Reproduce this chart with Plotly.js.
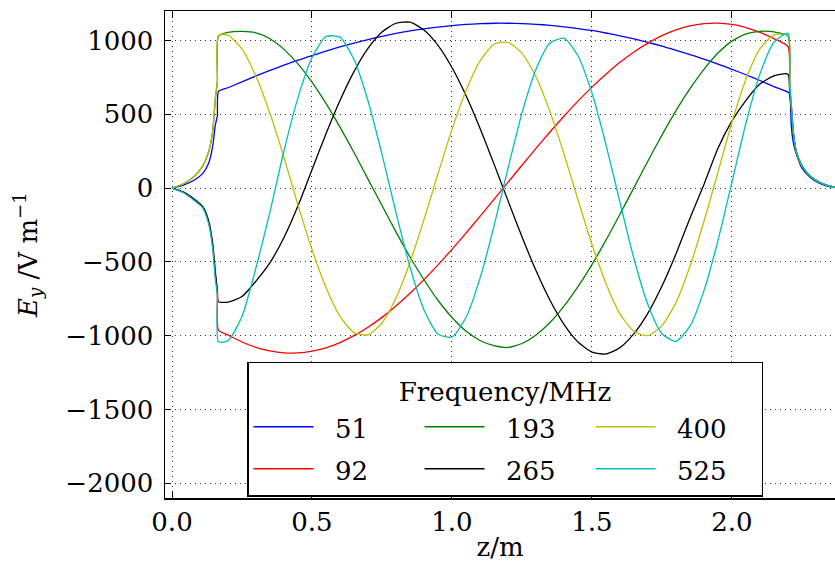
<!DOCTYPE html>
<html>
<head>
<meta charset="utf-8">
<script src="https://cdn.plot.ly/plotly-3.0.1.min.js"></script>
<style>html,body{margin:0;padding:0;background:#fff;}#chart{width:835px;height:562px;}</style>
</head>
<body>
<div id="chart"></div>
<script>
// z positions (m)
const z = [0, 0.04, 0.08, 0.11, 0.13, 0.145, 0.155, 0.162, 0.166,
  0.2, 0.25, 0.3, 0.35, 0.4, 0.45, 0.5, 0.55, 0.6, 0.65, 0.7, 0.75, 0.8, 0.85, 0.9, 0.95,
  1.0, 1.05, 1.1, 1.15, 1.2, 1.25, 1.3, 1.35, 1.4, 1.45, 1.5, 1.55, 1.6, 1.65, 1.7, 1.75,
  1.8, 1.85, 1.9, 1.95, 2.0, 2.05, 2.1, 2.15, 2.2,
  2.206, 2.212, 2.22, 2.23, 2.25, 2.28, 2.31, 2.34, 2.37];

const frequencies = ['51', '92', '193', '265', '400', '525'];

const E51 = [0, 20, 55, 100, 165, 280, 430, 490, 655,
  680, 720, 760, 797, 833, 867, 898, 928, 957, 983, 1006, 1028, 1048, 1065, 1079, 1091,
  1101, 1109, 1114, 1117, 1117, 1115, 1110, 1103, 1093, 1081, 1068, 1051, 1032, 1011, 987, 962,
  934, 905, 874, 840, 805, 768, 729, 688, 650,
  640, 420, 300, 230, 135, 72, 35, 13, 2];

const E92 = [0, -28, -80, -130, -225, -390, -600, -700, -963,
  -995, -1043, -1079, -1103, -1116, -1117, -1105, -1082, -1047, -1000, -943, -876, -799, -713, -620, -520,
  -415, -305, -192, -77, 39, 155, 269, 380, 487, 589, 684, 772, 852, 922, 982, 1033,
  1072, 1099, 1114, 1118, 1109, 1088, 1055, 1013, 960,
  690, 550, 360, 245, 150, 80, 42, 19, 4];

const E193 = [0, 28, 80, 150, 240, 380, 610, 720, 1030,
  1055, 1062, 1052, 1012, 940, 842, 718, 574, 413, 241, 61, -118, -297, -467, -621, -760,
  -877, -969, -1033, -1068, -1080, -1053, -995, -911, -800, -668, -518, -353, -177, 3, 184, 359,
  525, 674, 805, 915, 996, 1045, 1062, 1058, 1030,
  700, 560, 360, 245, 150, 80, 42, 19, 4];

const E265 = [0, -26, -75, -125, -215, -370, -570, -690, -771,
  -772, -735, -630, -505, -335, -120, 125, 368, 593, 789, 946, 1058, 1117, 1124, 1071, 967,
  817, 627, 406, 164, -85, -330, -559, -760, -923, -1043, -1111, -1124, -1081, -986, -847, -664,
  -446, -204, 25, 270, 455, 595, 705, 760, 772,
  650, 530, 360, 245, 150, 80, 42, 19, 4];

const E400 = [0, 28, 80, 150, 240, 380, 610, 720, 1035,
  1036, 942, 758, 505, 208, -115, -415, -674, -869, -979, -994, -914, -745, -504, -214, 97,
  398, 660, 860, 975, 988, 915, 755, 518, 231, -79, -381, -646, -852, -971, -1000, -932,
  -776, -530, -225, 107, 448, 738, 943, 1038, 1035,
  700, 560, 360, 245, 150, 80, 42, 19, 4];

const E525 = [0, -30, -85, -135, -235, -400, -620, -720, -1042,
  -1035, -870, -540, -160, 253, 613, 883, 1027, 1023, 871, 592, 229, -166, -535, -824, -990,
  -1009, -877, -612, -258, 134, 508, 805, 983, 1016, 897, 644, 295, -96, -479, -791, -987,
  -1038, -936, -695, -355, 41, 441, 773, 988, 1050,
  720, 560, 360, 245, 150, 80, 42, 19, 4];

const series = [E51, E92, E193, E265, E400, E525];
const colors = ['#0000ff', '#ff0000', '#008000', '#000000', '#bfbf00', '#00bfbf'];
const ranks = [1, 4, 2, 5, 3, 6];

const xTicks = [0, 0.5, 1.0, 1.5, 2.0];
const xTickText = ['0.0', '0.5', '1.0', '1.5', '2.0'];
const yTicks = [-2000, -1500, -1000, -500, 0, 500, 1000];
const yTickText = ['\u22122000', '\u22121500', '\u22121000', '\u2212500', '0', '500', '1000'];

const FONT = 'DejaVu Serif';

const traces = series.map((ys, i) => ({
  x: z, y: ys, type: 'scatter', mode: 'lines',
  name: '<span style="font-size:26px">\u00a0\u00a0' + frequencies[i] + '</span>',
  legendrank: ranks[i],
  line: {color: colors[i], width: 1.3, shape: 'spline', smoothing: 0.6}
}));

const layout = {
  width: 835, height: 562,
  margin: {l: 165, r: 0, t: 11, b: 64},
  paper_bgcolor: '#fff', plot_bgcolor: '#fff',
  font: {family: FONT, size: 26, color: '#000'},
  showlegend: true,
  xaxis: {
    range: [-0.025, 2.368],
    tickvals: xTicks, ticktext: xTickText,
    ticks: 'inside', ticklen: 7, tickwidth: 1, tickcolor: '#000',
    showline: true, linecolor: '#000', linewidth: 1.5, mirror: 'ticks',
    showgrid: true, gridcolor: '#333', gridwidth: 1, griddash: '1px,4px',
    zeroline: false,
    tickfont: {family: FONT, size: 26, color: '#000'},
    ticklabelstandoff: 0,
    title: {text: 'z/m', font: {family: FONT, size: 26, color: '#000'}, standoff: 2}
  },
  yaxis: {
    range: [-2100, 1200],
    tickvals: yTicks, ticktext: yTickText,
    ticks: 'inside', ticklen: 6, tickwidth: 1, tickcolor: '#000',
    showline: true, linecolor: '#000', linewidth: 1.5, mirror: false,
    showgrid: true, gridcolor: '#333', gridwidth: 1, griddash: '1px,4px',
    zeroline: false,
    tickfont: {family: FONT, size: 26, color: '#000'},
    ticklabelstandoff: 5,
    title: {text: '<i>E</i><sub><i>y</i></sub> /V m<sup>\u22121</sup>', font: {family: FONT, size: 26, color: '#000'}, standoff: 20}
  },
  legend: {
    orientation: 'h',
    x: 0.1224, xanchor: 'left',
    y: 0.003, yanchor: 'bottom',
    bgcolor: '#fff', bordercolor: '#000', borderwidth: 1.5,
    font: {family: FONT, size: 30, color: '#000'},
    title: {text: '<span style="font-size:26px">Frequency/MHz</span>', side: 'top center', font: {family: FONT, size: 29, color: '#000'}},
    entrywidth: 96,
    itemwidth: 60,
    traceorder: 'normal'
  }
};

Plotly.newPlot('chart', traces, layout, {displayModeBar: false, staticPlot: true});
</script>
</body>
</html>
